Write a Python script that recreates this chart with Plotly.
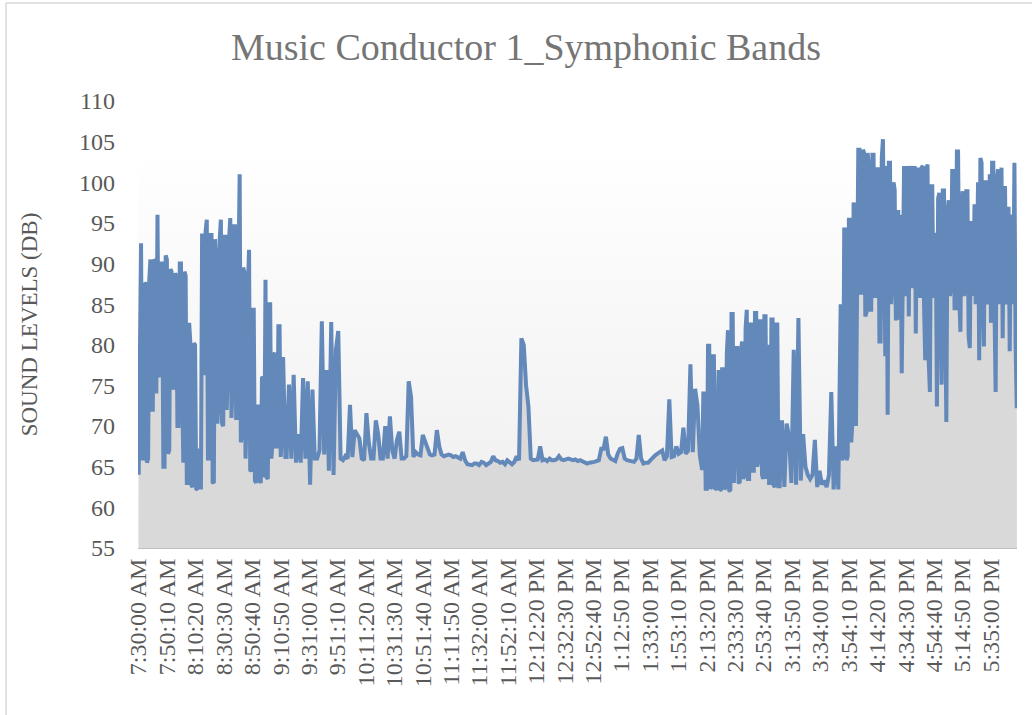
import plotly.graph_objects as go

# ---------------- data ----------------
# Readings, in five runs. Busy stretches are read
# every 50 s, quiet stretches every 100 s (seconds counted from 7:30:00 AM).
seg_start_s = [0, 6300, 24000, 27300, 29900]
seg_step_s = [50, 100, 50, 100, 50]

db_0730_0915 = [
    64, 87, 92.5, 66, 66, 87.6, 87.5, 65.5, 66, 88,
    90.5, 72, 72, 90.5, 90.3, 74, 96, 76, 77, 90,
    90, 65, 65, 91, 90.5, 66.6, 67, 89.3, 89, 75,
    74.5, 88.8, 88.5, 70, 70, 90, 90, 75, 65.5, 89,
    88.5, 63, 63, 82.7, 80.2, 62.7, 62.5, 80.2, 80, 62.3,
    62.2, 67, 67, 62.2, 93.7, 76.5, 76.5, 94, 95.4, 66,
    66, 93.5, 93.5, 63.1, 63, 93, 90.5, 70.3, 73, 93,
    95.4, 70.3, 70, 93.3, 93.3, 72, 78, 93, 95.6, 71,
    75, 94.6, 94.6, 71, 71, 89.3, 101, 68, 69, 89.5,
    89, 66, 72, 87, 91.7, 64.6, 64.5, 84.3, 84.3, 63.3,
    63, 72.4, 72.4, 63.3, 63, 75.9, 76, 63.7, 88, 63.7,
    63.5, 85, 85, 66, 68, 78.8, 79, 67.5, 67.5, 82.3,
    82.3, 66.2, 69, 78.5, 72.5, 66.2,
]

db_0915_1410 = [
    66.2, 75.1, 66, 76.3, 65.5, 69, 65.5, 75.9, 66, 75.5,
    62.8, 74.5, 66, 66, 67, 82.9, 66.5, 76.9, 64.5, 82.8,
    64, 79.4, 81.7, 66, 65.8, 66.3, 66,
    72.6, 66.2, 69.5, 69, 68.5, 66, 65.8, 71.6, 68, 66,
    66, 70.7, 69, 66, 66, 70, 66, 71.2, 67, 66,
    68.3, 69.3, 66, 66, 66.3, 75.5, 73.6, 66.2, 66.8, 66.5,
    66.4, 68.9, 68.2, 67.5, 66.5, 66.4, 66.5, 69.5, 67.5, 66.5,
    66.3, 66.4, 66.5, 66.4, 66.2, 66.3, 66.2, 66, 66.8, 65.8,
    65.3, 65.3, 65.2, 65.4, 65.4, 65.2, 65.6, 65.5, 65.2, 65.4,
    65.6, 66.3, 65.8, 65.7, 65.5, 65.6, 65.3, 65.8, 65.5, 65.3,
    65.6, 66.3, 65.8, 80.8, 80, 75, 72.4, 66, 65.8, 65.8,
    65.9, 67.5, 65.8, 65.9, 65.7, 66, 65.8, 65.8, 65.9, 66.3,
    65.9, 65.8, 65.9, 66, 65.9, 65.8, 65.9, 65.7, 65.8, 65.7,
    65.5, 65.4, 65.5, 65.5, 65.6, 65.7, 65.8, 67.2, 67.2, 68.7,
    66.5, 66, 65.8, 65.7, 66.6, 67.2, 67.3, 66, 65.8, 65.7,
    65.7, 65.6, 66, 68.9, 66, 65.4, 65.5, 65.5, 65.8, 66.2,
    66.4, 66.6, 66.8, 67, 65.8, 66.3, 73.3, 66.2, 66.3, 67.5,
    66.6, 66.8, 69.8, 66.6, 67, 77.6, 66.8, 74.6, 72.5, 66.4,
]

db_1410_1505 = [
    64.6, 74, 74, 62.3, 62.3, 79.9, 79.9, 62.3, 62.5, 78.6,
    78.6, 62.2, 62.3, 74, 76.9, 62.1, 62.2, 77, 77, 62.2,
    62.5, 79, 81.8, 62.1, 62, 83.8, 83.8, 63, 67, 79.6,
    79.6, 63.1, 63, 79, 80.4, 63.5, 64, 82, 84.3, 63.5,
    63.5, 82.5, 82.5, 64.5, 64.5, 83.9, 83.9, 65, 66, 82.9,
    82.9, 64, 63.5, 83.5, 83.5, 63.5, 80, 63, 63, 83.1,
    83.1, 62.7, 62.5, 82.5, 82.5, 62.6,
]

db_1505_1550 = [
    62.6, 70.7, 62.5, 70.3, 68.7, 63, 79.4, 62.8, 83.3, 63.3,
    69, 65, 64, 63.5, 64, 68.3, 62.5, 64.5, 62.8, 63.3,
    62.5, 64, 74.2, 62.2, 67.5, 62.2,
]

db_1550_1755 = [
    85, 65.8, 66.3, 94.2, 94.2, 65.8, 66.3, 95.4, 95.4, 68,
    70.5, 97.5, 96.6, 70, 87.5, 104, 104, 86.4, 86.4, 104,
    103.6, 83.5, 84, 103.6, 101.6, 84.3, 84.3, 103.4, 103.4, 86,
    86, 101.6, 101.6, 80.4, 80.4, 103, 105.3, 85, 78.6, 102,
    71.4, 102.4, 102.4, 85, 88, 100, 99.1, 83, 88, 96.6,
    83.1, 96, 76.5, 96, 102, 86, 88, 102, 83.5, 101,
    102, 87, 88, 102, 81.4, 101, 101.8, 86, 86, 101.8,
    102, 85, 78.1, 101.5, 102.2, 78, 74.2, 99.5, 99.5, 86,
    86, 93.8, 72.4, 98, 98.7, 85, 75.1, 99, 99, 85,
    70.5, 96, 97.8, 86, 87, 101.4, 101.4, 84.5, 84.5, 103.8,
    103.8, 86, 81.6, 98, 98.9, 86, 87, 98.9, 98.9, 81,
    79.6, 95, 95, 86, 97.3, 85, 88, 100, 78.1, 103,
    102.4, 86, 79.8, 100, 100, 85, 86, 101, 82.7, 102.4,
    102.4, 85, 74.2, 100, 101.6, 85, 87, 101.8, 80.8, 99.3,
    99.3, 85, 86, 97, 79.2, 95.8, 95.8, 85, 102.4, 80,
    72.2,
]

segments = [db_0730_0915, db_0915_1410, db_1410_1505, db_1505_1550, db_1550_1755]

tick_labels = [
    "7:30:00 AM", "7:50:10 AM", "8:10:20 AM", "8:30:30 AM", "8:50:40 AM",
    "9:10:50 AM", "9:31:00 AM", "9:51:10 AM", "10:11:20 AM", "10:31:30 AM",
    "10:51:40 AM", "11:11:50 AM", "11:32:00 AM", "11:52:10 AM", "12:12:20 PM",
    "12:32:30 PM", "12:52:40 PM", "1:12:50 PM", "1:33:00 PM", "1:53:10 PM",
    "2:13:20 PM", "2:33:30 PM", "2:53:40 PM", "3:13:50 PM", "3:34:00 PM",
    "3:54:10 PM", "4:14:20 PM", "4:34:30 PM", "4:54:40 PM", "5:14:50 PM",
    "5:35:00 PM",
]
TICK_STEP_SECONDS = 1210  # 20 min 10 s between labelled categories

y_ticks = list(range(55, 111, 5))

# ---------------- assemble series ----------------
elapsed, sound_db = [], []
for start, step, vals in zip(seg_start_s, seg_step_s, segments):
    for k, v in enumerate(vals):
        elapsed.append(start + k * step)
        sound_db.append(v)
tick_pos = [k * TICK_STEP_SECONDS for k in range(len(tick_labels))]

# ---------------- styling ----------------
FONT = "Liberation Serif, Times New Roman, serif"
TEXT = "#595959"
LINE = "#6388BA"
AREA = "#D9D9D9"

x_range = [-30, elapsed[-1] + 10]
y_range = [55, 110]
grad_top = 103.7

fig = go.Figure()

# plot-area gradient background
fig.add_trace(go.Scatter(
    x=[x_range[0], x_range[1]], y=[grad_top, grad_top],
    mode="none", fill="tozeroy",
    fillgradient=dict(type="vertical",
                      colorscale=[[0, "#EEEEEE"], [1, "#FFFFFF"]],
                      start=y_range[0], stop=grad_top),
    hoverinfo="skip", showlegend=False,
))

# sound level area + line
fig.add_trace(go.Scatter(
    x=elapsed, y=sound_db, mode="lines",
    line=dict(color=LINE, width=4),
    fill="tozeroy", fillcolor=AREA,
    showlegend=False,
))

fig.update_layout(
    width=1032, height=715, autosize=False,
    margin=dict(l=138, r=15, t=101, b=167, autoexpand=False),
    paper_bgcolor="white", plot_bgcolor="white",
    title=dict(text="Music Conductor 1_Symphonic Bands",
               x=0.5097, xanchor="center", y=0.934, yanchor="middle",
               font=dict(family=FONT, size=38, color="#757575")),
    font=dict(family=FONT, color=TEXT),
    showlegend=False,
)

fig.update_xaxes(
    range=x_range, tickmode="array", tickvals=tick_pos, ticktext=tick_labels,
    tickangle=-90, tickfont=dict(family=FONT, size=24, color=TEXT),
    showgrid=False, zeroline=False, showline=True, linecolor="#BFBFBF",
    linewidth=1, ticks="", ticklabelstandoff=0, automargin=False,
)
fig.update_yaxes(
    range=y_range, tickmode="array", tickvals=y_ticks,
    tickfont=dict(family=FONT, size=24, color=TEXT),
    showgrid=False, zeroline=False, showline=False, ticks="",
    ticklabelstandoff=22, automargin=False,
    title=dict(text="SOUND LEVELS (DB)", standoff=34,
               font=dict(family=FONT, size=23, color=TEXT)),
)

# outer chart frame (only top and left edges fall inside the picture)
fig.add_shape(type="line", xref="paper", yref="paper",
              x0=(6 - 138) / 879, x1=(1040 - 138) / 879,
              y0=(548 - 3) / 447, y1=(548 - 3) / 447,
              line=dict(color="#D9D9D9", width=1.5))
fig.add_shape(type="line", xref="paper", yref="paper",
              x0=(6 - 138) / 879, x1=(6 - 138) / 879,
              y0=(548 - 3) / 447, y1=(548 - 720) / 447,
              line=dict(color="#D9D9D9", width=1.5))

fig.write_html("out.html", config={"displayModeBar": False, "responsive": False},
               post_script="document.body.style.margin='0';")
